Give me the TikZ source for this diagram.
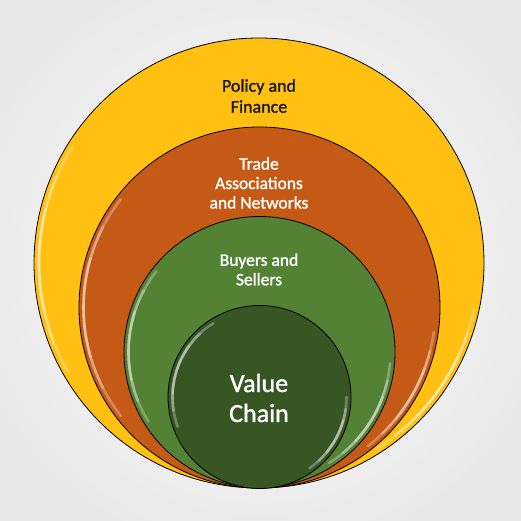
\documentclass[tikz,border=0pt]{standalone}
\usepackage{fontspec}
\setmainfont{Carlito}
\newfontfamily\semib[FakeBold=1.3]{Carlito}
\definecolor{cYellow}{HTML}{FFC012}
\definecolor{cOrange}{HTML}{C55A17}
\definecolor{cGreen}{HTML}{548235}
\definecolor{cDark}{HTML}{385624}
\definecolor{cBg}{HTML}{E8E8E8}
\tikzset{
  ring/.style={circle, draw=black, line width=0.8pt, inner sep=0pt, minimum size=#1},
  gloss/.style={white, line width=2.6pt, line cap=round, opacity=0.28},
  lbl/.style={align=center, font=\semib\fontsize{17.5}{19.5}\selectfont, text=white}
}
% glossy arc: center x, center y, radius, start, end
\newcommand{\glossarc}[5]{%
  \foreach \k in {0,1,2} {
    \pgfmathsetmacro{\sa}{#4+\k*(#5-#4)/7}
    \pgfmathsetmacro{\ea}{#5-\k*(#5-#4)/7}
    \draw[gloss] (#1,#2) ++(\sa:#3) arc[start angle=\sa, end angle=\ea, radius=#3];
  }%
}
\begin{document}
\begin{tikzpicture}[x=1pt,y=-1pt]
\useasboundingbox (0,0) rectangle (521,521);
\shade[inner color=white, outer color=cBg] (-40,-40) rectangle (561,561);
% rings
\node[ring=450pt, fill=cYellow] (outer) at (259,263) {};
\glossarc{259}{263}{220}{150}{212}
\glossarc{259}{263}{220}{12}{58}
\node[ring=361pt, fill=cOrange] (trade) at (259.5,307.5) {};
\glossarc{259.5}{307.5}{176}{142}{218}
\glossarc{259.5}{307.5}{176}{8}{52}
\node[ring=271pt, fill=cGreen] (buyers) at (259.5,352) {};
\glossarc{259.5}{352}{131}{148}{218}
\glossarc{259.5}{352}{131}{5}{58}
\node[ring=183pt, fill=cDark] (value) at (259.5,397) {};
\glossarc{259.5}{397}{87}{160}{238}
\glossarc{259.5}{397}{87}{0}{55}
% labels
\node[lbl, text=black!90, font=\semib\fontsize{18}{21}\selectfont] (tPolicy) at (259,96) {Policy and\\Finance};
\node[lbl] (tTrade) at (259,183) {Trade\\Associations\\and Networks};
\node[lbl] (tBuyers) at (259,269.5) {Buyers and\\Sellers};
\node[lbl, font=\semib\fontsize{26}{30}\selectfont] (tValue) at (259,398) {Value\\Chain};
\end{tikzpicture}
\end{document}
